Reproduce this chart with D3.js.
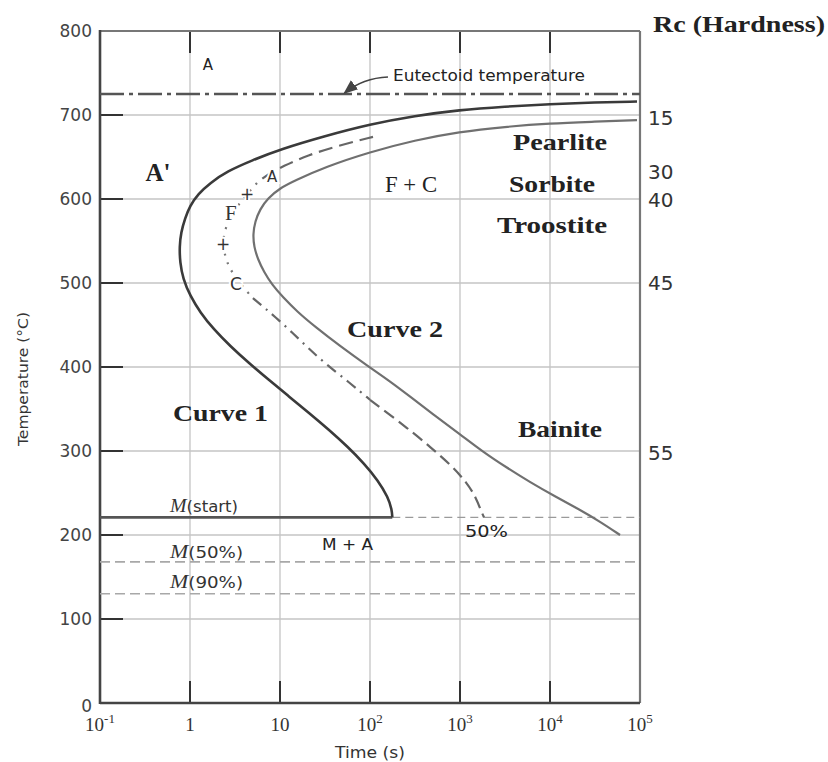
<!DOCTYPE html>
<html><head><meta charset="utf-8">
<script src="https://cdn.jsdelivr.net/npm/d3@7"></script>
<style>body{margin:0;background:#fff}</style>
</head><body>
<svg id="c" width="828" height="762"></svg>
<script>
// ---------- data ----------
const timeTicks = [0.1, 1, 10, 100, 1000, 10000, 100000];
const timeTickBase = ["10", "1", "10", "10", "10", "10", "10"];
const timeTickExp = ["-1", "", "", "2", "3", "4", "5"];
const tempTicks = [0, 100, 200, 300, 400, 500, 600, 700, 800];
const hardness = [15, 30, 40, 45, 55];
const hardnessTemp = [697, 632, 599, 500, 298];

const eutectoidTemp = 725;
const msTemp = 221, m50Temp = 168, m90Temp = 130;

// Curve 1 (start of transformation) [time s, temp °C]
const curve1 = [[92600,716],[31600,715],[10000,713],[3160,710],[975,706],[316,699],[100,689],[31.6,675],[10,659],[4.89,646],[2.58,633],[1.67,619],[1.23,606],[1.0,592],[0.88,577],[0.794,560],[0.764,543],[0.774,525],[0.836,505],[1.003,485],[1.298,465],[1.829,445],[2.79,425],[4.478,405],[7.432,385],[12.56,365],[21.21,345],[35.22,325],[56.54,305],[86.21,285],[122.7,265],[158.9,245],[175.1,230],[176.9,221]];
// Curve 2 (end of transformation)
const curve2 = [[92600,694],[31600,692],[10000,690],[3160,686],[975,680],[316,670],[100,656],[31.6,638],[14.7,622],[10,613],[7.36,601],[6.0,588],[5.27,573],[5.01,558],[5.14,543],[5.70,528],[6.64,513],[8.15,498],[10.8,483],[15.5,466],[24.5,448],[46.4,425],[95,401],[167,383],[278,365],[527,342],[1000,320],[1800,299],[3330,280],[5990,263],[11370,246],[21500,230],[35900,216],[60000,200]];
// 50 % transformation curve, in pieces
const mid1 = [[108,674],[46.4,664],[20,652],[10.8,639],[7.2,629],[5.55,619]];
const mid2 = [[5.55,619],[4.3,606],[3.0,585],[2.39,562],[2.33,546],[2.51,525],[3.33,503],[5.0,482]];
const mid3 = [[5.0,482],[9.5,457],[16.7,432],[30,406],[59.9,381],[100,361]];
const mid4 = [[100,361],[278,325],[464,305],[800,283],[1197,262],[1500,245],[1754,226],[1850,221]];

// ---------- layout ----------
const svg = d3.select("#c");
const x = d3.scaleLog().domain([0.1, 1e5]).range([100, 640]);
const y = d3.scaleLinear().domain([0, 800]).range([703, 31]);
const SANS = "DejaVu Sans", SERIF = "Liberation Serif";

// grid
svg.append("g").selectAll("line").data(timeTicks.slice(1, -1)).join("line")
  .attr("x1", d => x(d)).attr("x2", d => x(d)).attr("y1", y(0)).attr("y2", y(800))
  .attr("stroke", "#c4c4c4").attr("stroke-width", 1.3);
svg.append("g").selectAll("line").data(tempTicks.slice(1, -1)).join("line")
  .attr("y1", d => y(d)).attr("y2", d => y(d)).attr("x1", x(0.1)).attr("x2", x(1e5))
  .attr("stroke", "#c4c4c4").attr("stroke-width", 1.3);

// inward ticks
const tk = svg.append("g").attr("stroke", "#333").attr("stroke-width", 2);
tk.selectAll(".lt").data(tempTicks.slice(1, -1)).join("line")
  .attr("x1", x(0.1)).attr("x2", x(0.1) + 23).attr("y1", d => y(d)).attr("y2", d => y(d));
tk.selectAll(".bt").data(timeTicks.slice(1, -1)).join("line")
  .attr("x1", d => x(d)).attr("x2", d => x(d)).attr("y1", y(0)).attr("y2", y(0) - 22);
tk.selectAll(".tt").data(timeTicks.slice(1, -1)).join("line")
  .attr("x1", d => x(d)).attr("x2", d => x(d)).attr("y1", y(800)).attr("y2", y(800) + 22);

// frame
svg.append("line").attr("x1", x(0.1)).attr("x2", x(1e5)).attr("y1", y(800)).attr("y2", y(800)).attr("stroke", "#777").attr("stroke-width", 2.2);
svg.append("line").attr("x1", x(1e5)).attr("x2", x(1e5)).attr("y1", y(800)).attr("y2", y(0)).attr("stroke", "#777").attr("stroke-width", 2.2);
svg.append("line").attr("x1", x(0.1)).attr("x2", x(0.1)).attr("y1", y(800) - 1).attr("y2", y(0) + 1).attr("stroke", "#444").attr("stroke-width", 2.6);
svg.append("line").attr("x1", x(0.1)).attr("x2", x(1e5)).attr("y1", y(0)).attr("y2", y(0)).attr("stroke", "#444").attr("stroke-width", 2.6);

// tick labels
svg.append("g").selectAll("text").data(tempTicks).join("text")
  .attr("x", x(0.1) - 8).attr("y", d => y(d) + (d === 0 ? 3 : 0)).attr("dy", "0.36em")
  .attr("text-anchor", "end").attr("font-family", SANS).attr("font-size", 17).attr("fill", "#444")
  .text(d => d);
const xl = svg.append("g").selectAll("text").data(timeTicks).join("text")
  .attr("x", d => x(d)).attr("y", 731).attr("text-anchor", "middle")
  .attr("font-family", SERIF).attr("font-size", 19).attr("fill", "#333");
xl.append("tspan").text((d, i) => timeTickBase[i]);
xl.append("tspan").attr("dy", -8).attr("font-size", 13).text((d, i) => timeTickExp[i]);

// right hardness labels
svg.append("g").selectAll("text").data(hardness).join("text")
  .attr("x", x(1e5) + 8).attr("y", (d, i) => y(hardnessTemp[i])).attr("dy", "0.36em")
  .attr("font-family", SANS).attr("font-size", 20).attr("fill", "#333").text(d => d);
svg.append("text").attr("x", x(1e5) + 13).attr("y", y(800) + 1)
  .attr("font-family", SERIF).attr("font-weight", "bold").attr("font-size", 24).attr("fill", "#222")
  .attr("textLength", 172).attr("lengthAdjust", "spacingAndGlyphs").text("Rc (Hardness)");

// axis titles
svg.append("text").attr("transform", `translate(28,${(y(0) + y(800)) / 2 + 12}) rotate(-90)`)
  .attr("text-anchor", "middle").attr("font-family", SANS).attr("font-size", 14).attr("fill", "#333")
  .attr("textLength", 134).attr("lengthAdjust", "spacingAndGlyphs").text("Temperature (°C)");
svg.append("text").attr("x", x(100)).attr("y", 758).attr("text-anchor", "middle")
  .attr("font-family", SANS).attr("font-size", 15).attr("fill", "#333")
  .attr("textLength", 70).attr("lengthAdjust", "spacingAndGlyphs").text("Time (s)");

// horizontal reference lines
svg.append("line").attr("x1", x(0.1)).attr("x2", x(1e5)).attr("y1", y(m50Temp)).attr("y2", y(m50Temp))
  .attr("stroke", "#a8a8a8").attr("stroke-width", 1.6).attr("stroke-dasharray", "10,5");
svg.append("line").attr("x1", x(0.1)).attr("x2", x(1e5)).attr("y1", y(m90Temp)).attr("y2", y(m90Temp))
  .attr("stroke", "#a8a8a8").attr("stroke-width", 1.6).attr("stroke-dasharray", "10,5");
const msEnd = curve1[curve1.length - 1][0];
svg.append("line").attr("x1", x(msEnd)).attr("x2", x(1e5)).attr("y1", y(msTemp)).attr("y2", y(msTemp))
  .attr("stroke", "#9a9a9a").attr("stroke-width", 1.4).attr("stroke-dasharray", "8,5");
svg.append("line").attr("x1", x(0.1)).attr("x2", x(msEnd)).attr("y1", y(msTemp)).attr("y2", y(msTemp))
  .attr("stroke", "#555").attr("stroke-width", 2.6);
svg.append("line").attr("x1", x(0.1)).attr("x2", x(1e5)).attr("y1", y(eutectoidTemp)).attr("y2", y(eutectoidTemp))
  .attr("stroke", "#555").attr("stroke-width", 2.6).attr("stroke-dasharray", "24,5,4,5");

// curves
const line = d3.line().x(d => x(d[0])).y(d => y(d[1])).curve(d3.curveBasis);
svg.append("path").attr("d", line(curve1)).attr("fill", "none").attr("stroke", "#3a3a3a").attr("stroke-width", 2.6);
svg.append("path").attr("d", line(curve2)).attr("fill", "none").attr("stroke", "#707070").attr("stroke-width", 2.2);
svg.append("path").attr("d", line(mid1)).attr("fill", "none").attr("stroke", "#666").attr("stroke-width", 2.2).attr("stroke-dasharray", "14,7");
svg.append("path").attr("d", line(mid2)).attr("fill", "none").attr("stroke", "#777").attr("stroke-width", 2.2).attr("stroke-dasharray", "2,7");
svg.append("path").attr("d", line(mid3)).attr("fill", "none").attr("stroke", "#666").attr("stroke-width", 2.2).attr("stroke-dasharray", "11,6,2,6");
svg.append("path").attr("d", line(mid4)).attr("fill", "none").attr("stroke", "#666").attr("stroke-width", 2.2).attr("stroke-dasharray", "12,6");

// eutectoid arrow
svg.append("defs").append("marker").attr("id", "ah").attr("viewBox", "0 0 10 10")
  .attr("refX", 9).attr("refY", 5).attr("markerWidth", 9).attr("markerHeight", 9).attr("orient", "auto")
  .append("path").attr("d", "M0,1 L10,5 L0,9 Z").attr("fill", "#444");
{
  const x0 = x(180) - 5, y0 = y(740.5) - 4, x1 = x(52), y1 = y(eutectoidTemp) - 1;
  svg.append("path").attr("d", `M${x0},${y0} Q${x0 - 25},${y0 + 1} ${x1},${y1}`)
    .attr("fill", "none").attr("stroke", "#444").attr("stroke-width", 1.6).attr("marker-end", "url(#ah)");
}

// annotations [text, time, temp, font, size, weight, anchor, textLength]
const notes = [
  ["Eutectoid temperature", 180, 740.5, SANS, 16, "normal", "start", 192],
  ["A", 1.585, 753.6, SANS, 15, "normal", "middle", 0],
  ["A'", 0.44, 621.4, SERIF, 25, "bold", "middle", 0],
  ["F + C", 147, 608, SERIF, 23, "normal", "start", 52],
  ["Pearlite", 3880, 658.3, SERIF, 24, "bold", "start", 94],
  ["Sorbite", 3500, 608.3, SERIF, 24, "bold", "start", 86],
  ["Troostite", 2577, 559.5, SERIF, 24, "bold", "start", 110],
  ["Bainite", 4410, 316.7, SERIF, 24, "bold", "start", 84],
  ["Curve 1", 0.647, 335.7, SERIF, 24, "bold", "start", 95],
  ["Curve 2", 55.5, 435.7, SERIF, 24, "bold", "start", 96],
  ["M + A", 29.3, 182, SANS, 15, "normal", "start", 51],
  ["50%", 1136, 197.6, SANS, 16, "normal", "start", 43]
];
svg.append("g").selectAll("text").data(notes).join("text")
  .attr("x", d => x(d[1])).attr("y", d => y(d[2]))
  .attr("font-family", d => d[3]).attr("font-size", d => d[4]).attr("font-weight", d => d[5])
  .attr("text-anchor", d => d[6]).attr("fill", "#222")
  .attr("textLength", d => d[7] || null).attr("lengthAdjust", "spacingAndGlyphs")
  .text(d => d[0]);

// labels on the 50 % curve (with white halo)
const curveNotes = [
  ["A", 7.17, 620.2, SANS, 15, "start"],
  ["F", 2.45, 575, SERIF, 21, "start"],
  ["C", 2.78, 491.7, SANS, 17, "start"],
  ["+", 4.3, 606, SANS, 17, "middle"],
  ["+", 2.33, 546.4, SANS, 17, "middle"]
];
svg.append("g").selectAll("text").data(curveNotes).join("text")
  .attr("x", d => x(d[1])).attr("y", d => y(d[2]))
  .attr("dy", d => d[0] === "+" ? "0.35em" : 0)
  .attr("font-family", d => d[3]).attr("font-size", d => d[4]).attr("text-anchor", d => d[5])
  .attr("fill", "#333").attr("stroke", "#fff").attr("stroke-width", 4).attr("paint-order", "stroke")
  .text(d => d[0]);

// martensite labels
const mLabels = [["(start)", msTemp + 6.4, 68], ["(50%)", m50Temp + 4.6, 73], ["(90%)", m90Temp + 6.9, 73]];
const ml = svg.append("g").selectAll("text").data(mLabels).join("text")
  .attr("x", x(0.6)).attr("y", d => y(d[1])).attr("fill", "#333")
  .attr("textLength", d => d[2]).attr("lengthAdjust", "spacingAndGlyphs");
ml.append("tspan").attr("font-family", SERIF).attr("font-style", "italic").attr("font-size", 18).text("M");
ml.append("tspan").attr("font-family", SANS).attr("font-size", 15).text(d => d[0]);
</script>
</body></html>
